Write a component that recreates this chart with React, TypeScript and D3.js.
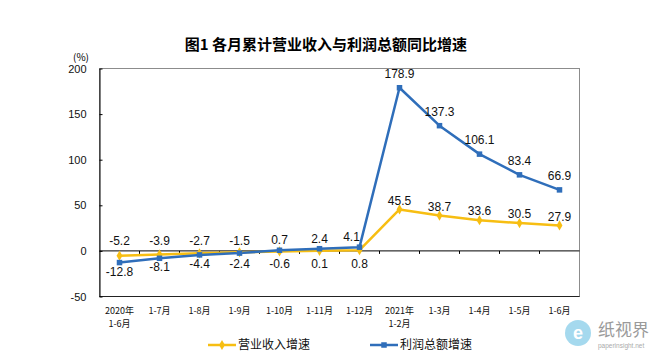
import React, { useEffect, useRef } from 'react';
import * as d3 from 'd3';

const categories = ['2020年\n1-6月', '1-7月', '1-8月', '1-9月', '1-10月', '1-11月', '1-12月', '2021年\n1-2月', '1-3月', '1-4月', '1-5月', '1-6月'];
const revenueGrowth = [-5.2, -3.9, -2.7, -1.5, -0.6, 0.1, 0.8, 45.5, 38.7, 33.6, 30.5, 27.9];
const profitGrowth = [-12.8, -8.1, -4.4, -2.4, 0.7, 2.4, 4.1, 178.9, 137.3, 106.1, 83.4, 66.9];
const yTicks = [-50, 0, 50, 100, 150, 200];
const seriesNames = ['营业收入增速', '利润总额增速'];

const YELLOW = '#F7BE12';
const BLUE = '#2F6EBA';
const CJK = '"Noto Sans CJK SC", sans-serif';
const LATIN = '"Liberation Sans", Arial, sans-serif';

const fmt = (v: number) => v.toFixed(1);

export default function App() {
  const ref = useRef<SVGSVGElement | null>(null);

  useEffect(() => {
    document.body.style.margin = '0';
    const svg = d3.select(ref.current);
    svg.selectAll('*').remove();

    const left = 99.5, right = 579.5, top = 68.5, bottom = 296.5;

    const x = d3.scaleBand<number>()
      .domain(d3.range(categories.length))
      .range([left, right])
      .paddingInner(0);
    const cx = (i: number) => (x(i) as number) + x.bandwidth() / 2;

    const y = d3.scaleLinear().domain([-50, 200]).range([bottom, top]);
    const y0 = y(0);

    svg.append('rect').attr('width', 660).attr('height', 353).attr('fill', '#fff');

    // title
    svg.append('text')
      .attr('x', 326).attr('y', 45).attr('dy', '0.35em')
      .attr('text-anchor', 'middle')
      .attr('font-family', CJK).attr('font-size', 15).attr('font-weight', 700)
      .text('图1  各月累计营业收入与利润总额同比增速');

    svg.append('text')
      .attr('x', 81).attr('y', 57).attr('dy', '0.35em')
      .attr('text-anchor', 'middle')
      .attr('font-family', CJK).attr('font-size', 10)
      .text('(%)');

    // plot frame
    svg.append('rect')
      .attr('x', left).attr('y', top)
      .attr('width', right - left).attr('height', bottom - top)
      .attr('fill', 'none').attr('stroke', '#8c8c8c').attr('stroke-width', 1);

    svg.append('line')
      .attr('x1', left).attr('x2', right).attr('y1', bottom).attr('y2', bottom)
      .attr('stroke', '#222');

    // y axis
    const yAxis = svg.append('g')
      .attr('transform', `translate(${left},0)`)
      .call(d3.axisLeft(y).tickValues(yTicks).tickFormat(d => String(d)).tickSizeInner(-3).tickSizeOuter(0).tickPadding(13));
    yAxis.select('.domain').attr('stroke', '#000');
    yAxis.selectAll('.tick line').attr('stroke', '#000');
    yAxis.selectAll('.tick text')
      .attr('font-family', LATIN).attr('font-size', 11).attr('fill', '#111');

    // zero line with category ticks
    svg.append('line')
      .attr('x1', left).attr('x2', right).attr('y1', y0).attr('y2', y0)
      .attr('stroke', '#000');
    svg.selectAll('.cattick').data(d3.range(1, categories.length)).join('line')
      .attr('x1', d => x(d) as number).attr('x2', d => x(d) as number)
      .attr('y1', y0).attr('y2', y0 + 3)
      .attr('stroke', '#000');

    // category labels, one text per line
    const catLines = categories.flatMap((c, i) => c.split('\n').map((t, j) => ({ i, j, t })));
    svg.selectAll('.cat').data(catLines).join('text')
      .attr('x', d => cx(d.i))
      .attr('y', d => 311 + d.j * 13)
      .attr('dy', '0.35em')
      .attr('font-family', CJK).attr('font-size', 9).attr('fill', '#111')
      .attr('text-anchor', 'middle')
      .text(d => d.t);

    // lines
    const line = d3.line<number>().x((_d, i) => cx(i)).y(d => y(d));

    svg.append('path').datum(revenueGrowth)
      .attr('d', line).attr('fill', 'none')
      .attr('stroke', YELLOW).attr('stroke-width', 2.5).attr('stroke-linejoin', 'round');
    svg.append('path').datum(profitGrowth)
      .attr('d', line).attr('fill', 'none')
      .attr('stroke', BLUE).attr('stroke-width', 2.5).attr('stroke-linejoin', 'round');

    const diamond = d3.symbol().type(d3.symbolDiamond).size(30);
    svg.selectAll('.rev').data(revenueGrowth).join('path')
      .attr('d', diamond)
      .attr('transform', (d, i) => `translate(${cx(i)},${y(d)})`)
      .attr('fill', YELLOW);
    svg.selectAll('.pro').data(profitGrowth).join('rect')
      .attr('x', (_d, i) => cx(i) - 2.75).attr('y', d => y(d) - 2.75)
      .attr('width', 5.5).attr('height', 5.5)
      .attr('fill', BLUE);

    // data labels
    const labels: { x: number; y: number; t: string }[] = [];
    revenueGrowth.forEach((r, i) => {
      const p = profitGrowth[i];
      const yr = y(r), yp = y(p);
      if (p > 20) {
        labels.push({ x: cx(i), y: yp - 14, t: fmt(p) });
        labels.push({ x: cx(i), y: yr - 9, t: fmt(r) });
        return;
      }
      const hi = Math.max(r, p), lo = Math.min(r, p);
      // nudge left when the next point shoots up, so the label clears the line
      const shift = (profitGrowth[i + 1] ?? 0) > 100 ? -8 : 0;
      labels.push({ x: cx(i) + shift, y: Math.min(y0, y(hi)) - 10, t: fmt(hi) });
      labels.push({ x: cx(i), y: Math.max(y0 + 13, y(lo) + 9), t: fmt(lo) });
    });
    svg.selectAll('.lbl').data(labels).join('text')
      .attr('x', d => d.x).attr('y', d => d.y).attr('dy', '0.35em')
      .attr('text-anchor', 'middle')
      .attr('font-family', LATIN).attr('font-size', 12).attr('fill', '#111')
      .text(d => d.t);

    // legend
    const legend = svg.append('g');
    const legendItems = [
      { name: seriesNames[0], color: YELLOW, x0: 208, marker: 'diamond' },
      { name: seriesNames[1], color: BLUE, x0: 370, marker: 'square' },
    ];
    legendItems.forEach(item => {
      const g = legend.append('g').attr('transform', `translate(${item.x0},345)`);
      g.append('line').attr('x1', 0).attr('x2', 28).attr('stroke', item.color).attr('stroke-width', 2.5);
      if (item.marker === 'diamond') {
        g.append('path').attr('d', diamond).attr('transform', 'translate(14,0)').attr('fill', item.color);
      } else {
        g.append('rect').attr('x', 11.25).attr('y', -2.75).attr('width', 5.5).attr('height', 5.5).attr('fill', item.color);
      }
      g.append('text').attr('x', 30).attr('dy', '0.35em')
        .attr('font-family', CJK).attr('font-size', 12).attr('fill', '#111')
        .text(item.name);
    });

    // watermark
    const wm = svg.append('g').attr('transform', 'translate(562,318)');
    wm.append('circle').attr('cx', 16).attr('cy', 15).attr('r', 13).attr('fill', '#8fd0ea').attr('opacity', 0.8);
    wm.append('text').attr('x', 16).attr('y', 15).attr('dy', '0.35em').attr('text-anchor', 'middle')
      .attr('font-family', LATIN).attr('font-size', 18).attr('font-weight', 700).attr('fill', '#fff').text('e');
    wm.append('text').attr('x', 36).attr('y', 12).attr('dy', '0.35em')
      .attr('font-family', CJK).attr('font-size', 17).attr('fill', '#9a9a9a').text('纸视界');
    wm.append('text').attr('x', 36).attr('y', 28).attr('dy', '0.35em')
      .attr('font-family', LATIN).attr('font-size', 6.5).attr('fill', '#aaa').text('paperinsight.net');
  }, []);

  return <svg ref={ref} width={660} height={353} style={{ display: 'block' }} />;
}
